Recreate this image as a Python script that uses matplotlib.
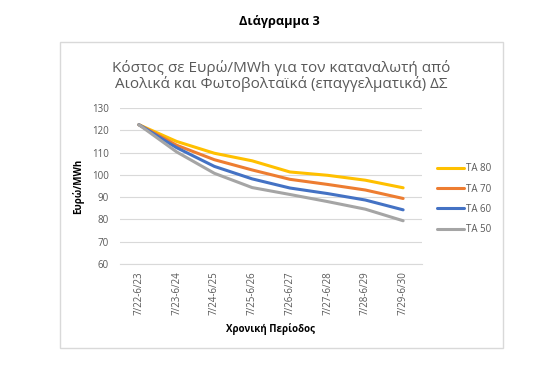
import matplotlib
matplotlib.use("Agg")
import matplotlib.pyplot as plt
from matplotlib.patches import Rectangle

periods = ['7/22-6/23', '7/23-6/24', '7/24-6/25', '7/25-6/26',
           '7/26-6/27', '7/27-6/28', '7/28-6/29', '7/29-6/30']
ta80 = [122.5, 115.0, 109.7, 106.3, 101.3, 99.8, 97.6, 94.2]
ta70 = [122.5, 113.3, 106.8, 102.2, 98.0, 95.7, 93.2, 89.4]
ta60 = [122.5, 112.2, 103.8, 98.2, 94.1, 91.6, 88.7, 84.3]
ta50 = [122.5, 110.3, 100.7, 94.3, 91.2, 88.0, 84.6, 79.4]

series = [('TA 80', ta80, '#FFC000'),
          ('TA 70', ta70, '#ED7D31'),
          ('TA 60', ta60, '#4472C4'),
          ('TA 50', ta50, '#A5A5A5')]

plt.rcParams['font.family'] = ['Open Sans', 'DejaVu Sans']

fig = plt.figure(figsize=(5.58, 3.79), dpi=100)

# chart frame
fig.patches.append(Rectangle((60/558, 1-348/379), 443/558, (348-42)/379,
                             transform=fig.transFigure, fill=False,
                             edgecolor='#D9D9D9', lw=1))

fig.text(0.5, 1-22/379, 'Διάγραμμα 3', ha='center', va='center',
         fontsize=9.2, fontweight='bold', color='black')
fig.text(281/558, 1-68/379, 'Κόστος σε Ευρώ/MWh για τον καταναλωτή από',
         ha='center', va='center', fontsize=11, color='#595959')
fig.text(281/558, 1-84/379, 'Αιολικά και Φωτοβολταϊκά (επαγγελματικά) ΔΣ',
         ha='center', va='center', fontsize=11, color='#595959')

ax = fig.add_axes([120/558, 1-264/379, 302/558, 156/379])
x = list(range(len(periods)))
for name, vals, col in series:
    ax.plot(x, vals, color=col, lw=2.2, label=name, solid_capstyle='round')

ax.set_xlim(-0.5, len(periods) - 0.5)
ax.set_ylim(60, 130)
ax.set_yticks(range(60, 131, 10))
ax.set_xticks(x)
ax.set_xticklabels(periods, rotation=90, fontsize=7, color='#595959')
ax.tick_params(axis='y', labelsize=7, labelcolor='#595959', length=0, pad=8)
ax.tick_params(axis='x', length=0, pad=5)
ax.grid(axis='y', color='#D9D9D9', lw=0.8)
ax.set_axisbelow(True)
for s in ['top', 'right', 'left']:
    ax.spines[s].set_visible(False)
ax.spines['bottom'].set_color('#D9D9D9')

ax.set_ylabel('Ευρώ/MWh', fontsize=7, fontweight='bold', labelpad=6)
ax.set_xlabel('Χρονική Περίοδος', fontsize=7, fontweight='bold', labelpad=6)

leg = ax.legend(loc='center left', bbox_to_anchor=(1.02, 0.415), frameon=False,
                fontsize=7, handlelength=2.8, handletextpad=0.2,
                labelspacing=0.95)
for t in leg.get_texts():
    t.set_color('#595959')

fig.savefig('out.png', dpi=100)
